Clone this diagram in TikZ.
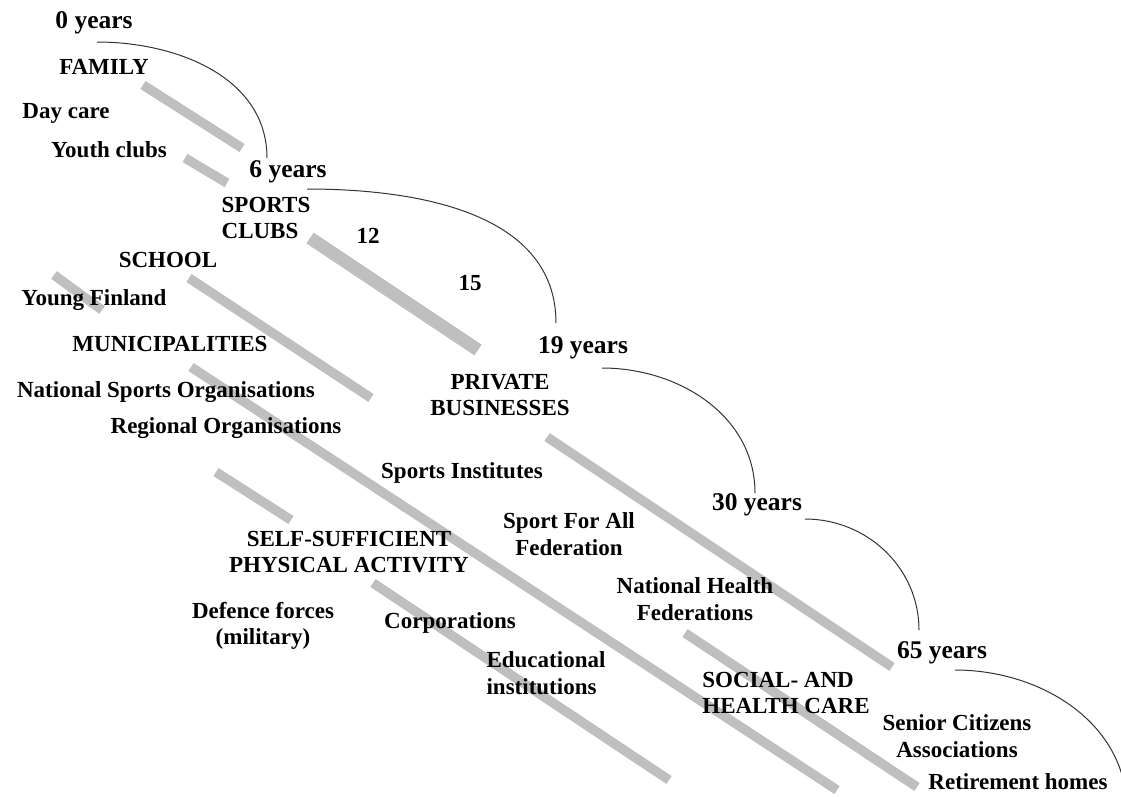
\documentclass[tikz,border=0pt]{standalone}
\usepackage{fontspec}
\setmainfont{Liberation Serif}
\newcommand\yearfont{\fontsize{25.5}{28}\selectfont\bfseries}
\newcommand\orgfont{\fontsize{23}{26.5}\selectfont\bfseries}

\begin{document}
\begin{tikzpicture}[x=1pt, y=-1pt,
		bar/.style={line width=9.5pt, color=black!25},
		lifearc/.style={line width=1pt, color=black!80},
		age/.style={font=\yearfont, inner sep=0pt},
		org/.style={font=\orgfont, inner sep=0pt}]
		%%%%% START %%%%%
		
		\useasboundingbox (0, 0) rectangle (1121, 796);
		\clip (0, 0) rectangle (1121, 796);
		
		\draw[bar] (143, 85) -- (242, 148);
		\draw[bar] (185, 158) -- (227, 183);
		\draw[bar, line width=13pt] (310, 238) -- (478, 350);
		\draw[bar] (54, 275) -- (102, 310);
		\draw[bar] (189, 278) -- (371, 398);
		\draw[bar] (191, 367) -- (837, 790);
		\draw[bar] (216, 472) -- (291, 520);
		\draw[bar] (373, 583) -- (669, 780);
		\draw[bar] (547, 437) -- (892, 667);
		\draw[bar] (685, 633) -- (917, 787);
		
		\node[age] (y0) at (94, 23) {0 years};
		\node[age] (y6) at (288, 172) {6 years};
		\node[age] (y19) at (583, 348) {19 years};
		\node[age] (y30) at (757, 505) {30 years};
		\node[age] (y65) at (942, 653) {65 years};
		\coordinate (yend) at (1127, 810);
		
		\draw[lifearc] ([shift={(3, 19)}]y0.center) to[out=0, in=90] ([shift={(-21, -14)}]y6.center);
		\draw[lifearc] ([shift={(19, 17)}]y6.center) to[out=0, in=90] ([shift={(-27, -25)}]y19.center);
		\draw[lifearc] ([shift={(19, 20)}]y19.center) to[out=0, in=90] ([shift={(-2, -12)}]y30.center);
		\draw[lifearc] ([shift={(48, 14)}]y30.center) to[out=0, in=90] ([shift={(-23, -23)}]y65.center);
		\draw[lifearc] ([shift={(13, 17)}]y65.center) to[out=0, in=90] (yend);
		
		\node[org] (family) at (104, 67) {FAMILY};
		\node[org] (daycare) at (66, 113) {Day care};
		\node[org] (youth) at (109, 150) {Youth clubs};
		\node[org, align=left] (clubs) at (266, 218) {SPORTS\\CLUBS};
		\node[org] (n12) at (368, 236) {12};
		\node[org] (n15) at (470, 283) {15};
		\node[org] (school) at (168, 260) {SCHOOL};
		\node[org] (youngfin) at (94, 300) {Young Finland};
		\node[org] (municip) at (170, 344) {MUNICIPALITIES};
		\node[org] (natsport) at (166, 392) {National Sports Organisations};
		\node[org] (regional) at (226, 428) {Regional Organisations};
		\node[org, align=center] (private) at (500, 395) {PRIVATE\\BUSINESSES};
		\node[org] (institutes) at (462, 473) {Sports Institutes};
		\node[org, align=center] (selfsuff) at (349, 552) {SELF-SUFFICIENT\\PHYSICAL ACTIVITY};
		\node[org, align=center] (sportall) at (569, 534) {Sport For All\\Federation};
		\node[org, align=center] (defence) at (263, 626) {Defence forces\\(military)};
		\node[org] (corp) at (450, 623) {Corporations};
		\node[org, align=left] (educ) at (546, 673) {Educational\\institutions};
		\node[org, align=center] (health) at (695, 599) {National Health\\Federations};
		\node[org, align=left] (social) at (786, 693) {SOCIAL- AND\\HEALTH CARE};
		\node[org, align=center] (senior) at (957, 736) {Senior Citizens\\Associations};
		\node[org] (retire) at (1018, 782) {Retirement homes};
		
		%%%%% END %%%%%
\end{tikzpicture}
\end{document}
